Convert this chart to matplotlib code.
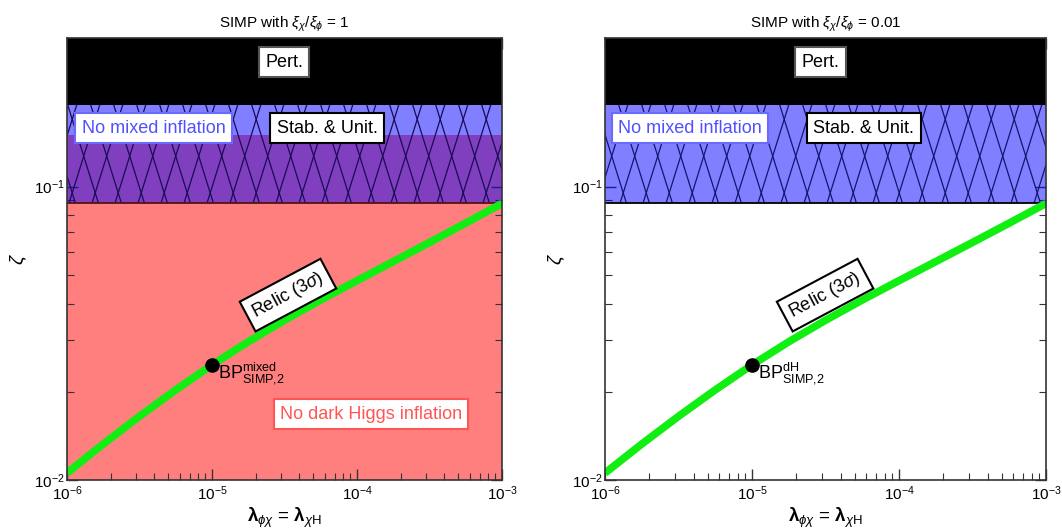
import numpy as np
import matplotlib
matplotlib.use("Agg")
import matplotlib.pyplot as plt
from matplotlib.ticker import LogLocator, NullFormatter

plt.rcParams['font.family'] = ['Liberation Sans', 'DejaVu Sans']
plt.rcParams['mathtext.fontset'] = 'custom'
plt.rcParams['mathtext.rm'] = 'Liberation Sans'
plt.rcParams['mathtext.it'] = 'Liberation Sans:italic'
plt.rcParams['mathtext.bf'] = 'Liberation Sans:bold'

# relic (3 sigma) curve
lam = [1e-6, 1.78e-6, 3.16e-6, 5.62e-6, 1e-5, 1.78e-5, 3.16e-5, 5.62e-5,
       1e-4, 1.78e-4, 3.16e-4, 5.62e-4, 1e-3]
zeta_relic = [0.01059, 0.01330, 0.01652, 0.02032, 0.02472, 0.02965, 0.03508,
              0.04111, 0.04786, 0.05559, 0.06457, 0.07516, 0.08770]

# benchmark point
bp_lam = 1e-5
bp_zeta = 0.0247

# excluded bands in zeta
zeta_min, zeta_max = 0.01, 0.32
pert_low = 0.19
stab_low = 0.088
dark_higgs_high = 0.15

xi_ratios = ["1", "0.01"]
bp_tags = ["mixed", "dH"]

fig = plt.figure(figsize=(10.62, 5.29), dpi=100)
ax1 = fig.add_axes([0.0631, 0.092, 0.4096, 0.8356])
ax2 = fig.add_axes([0.5697, 0.092, 0.4153, 0.8356])


def add_hatch(ax, lo, hi, phase, color):
    # steep diamond lattice, like the original
    span = ax.axhspan(lo, hi, facecolor='none', edgecolor='none')
    pos = ax.get_position()
    W = pos.width * fig.get_figwidth() * fig.dpi
    H = pos.height * fig.get_figheight() * fig.dpi
    period, slope, y0 = 23.0, 3.2, -7.0
    ys = np.array([0.0, H])
    for k in range(-25, 45):
        xb = phase + k * period
        for sgn in (1, -1):
            xs = xb + sgn * (ys - y0) / slope
            ln, = ax.plot(xs / W, ys / H, transform=ax.transAxes,
                          color=color, lw=0.9, zorder=3)
            ln.set_clip_path(span)


box = dict(boxstyle='square,pad=0.35', fc='white', lw=1.5)

for i, ax in enumerate([ax1, ax2]):
    ax.set_xscale('log')
    ax.set_yscale('log')

    if i == 0:
        ax.axhspan(zeta_min, dark_higgs_high, color='red', alpha=0.5, lw=0, zorder=1)
    ax.axhspan(stab_low, pert_low, color='blue', alpha=0.5, lw=0, zorder=2)
    add_hatch(ax, stab_low, pert_low, 5.2 if i == 0 else 18.2,
              '#1a0a55' if i == 0 else '#141470')
    ax.axhspan(pert_low, zeta_max, color='black', lw=0, zorder=2)
    ax.axhline(stab_low, color='#5c1010' if i == 0 else 'black', lw=1.3, zorder=4)

    ax.plot(lam, zeta_relic, color='#11ee11', lw=5.5, solid_capstyle='butt',
            solid_joinstyle='round', zorder=5)
    ax.plot([bp_lam], [bp_zeta], 'o', color='black', ms=9.5, zorder=6)
    ax.annotate('BP$^{\\rm ' + bp_tags[i] + '}_{\\rm SIMP{,}2}$', (bp_lam, bp_zeta),
                xytext=(4, -6), textcoords='offset points', ha='left', va='center',
                fontsize=13, zorder=7)

    ax.set_xlim(1e-6, 1e-3)
    ax.set_ylim(zeta_min, zeta_max)

    xc = 0.499 if i == 0 else 0.489
    ax.text(xc, 0.946, 'Pert.', transform=ax.transAxes, ha='center', va='center',
            fontsize=13, zorder=8, bbox=dict(box, ec='#555555'))
    ax.text(0.199 if i == 0 else 0.193, 0.797, 'No mixed inflation', transform=ax.transAxes,
            ha='center', va='center', fontsize=13, color='#5050ff', zorder=8,
            bbox=dict(box, ec='#6a6aff'))
    ax.text(0.598 if i == 0 else 0.587, 0.797, 'Stab. & Unit.', transform=ax.transAxes,
            ha='center', va='center', fontsize=13, color='black', zorder=8,
            bbox=dict(box, ec='black'))
    ax.text(0.508 if i == 0 else 0.499, 0.419, 'Relic (3$\\sigma$)', transform=ax.transAxes,
            ha='center', va='center', fontsize=13, rotation=28, rotation_mode='anchor',
            zorder=8, bbox=dict(box, ec='black'))
    if i == 0:
        ax.text(0.699, 0.150, 'No dark Higgs inflation', transform=ax.transAxes,
                ha='center', va='center', fontsize=13, color='#ff5555', zorder=8,
                bbox=dict(box, ec='#ff5555'))

    ax.set_title('SIMP with $\\xi_\\chi/\\xi_\\phi$ = ' + xi_ratios[i], fontsize=11, pad=8)
    ax.set_xlabel('$\\boldsymbol{\\lambda}_{\\phi\\chi}$ = $\\boldsymbol{\\lambda}_{\\chi{\\rm H}}$',
                  fontsize=13.5, labelpad=2)
    ax.set_ylabel('$\\zeta$', fontsize=14, labelpad=3)

    ax.xaxis.set_major_locator(LogLocator(base=10, numticks=10))
    ax.yaxis.set_major_locator(LogLocator(base=10, numticks=10))
    ax.xaxis.set_minor_locator(LogLocator(base=10, subs=np.arange(2, 10), numticks=20))
    ax.yaxis.set_minor_locator(LogLocator(base=10, subs=np.arange(2, 10), numticks=20))
    ax.xaxis.set_minor_formatter(NullFormatter())
    ax.yaxis.set_minor_formatter(NullFormatter())
    ax.tick_params(which='both', direction='in', top=True, right=True,
                   labelsize=11, color='#333333', pad=2)
    ax.tick_params(axis='x', which='major', pad=3)
    ax.tick_params(which='major', length=8, width=1)
    ax.tick_params(which='minor', length=5, width=0.8)
    for sp in ax.spines.values():
        sp.set_color('#333333')
        sp.set_linewidth(1.2)
        sp.set_zorder(10)

fig.savefig('out.png', dpi=100)
